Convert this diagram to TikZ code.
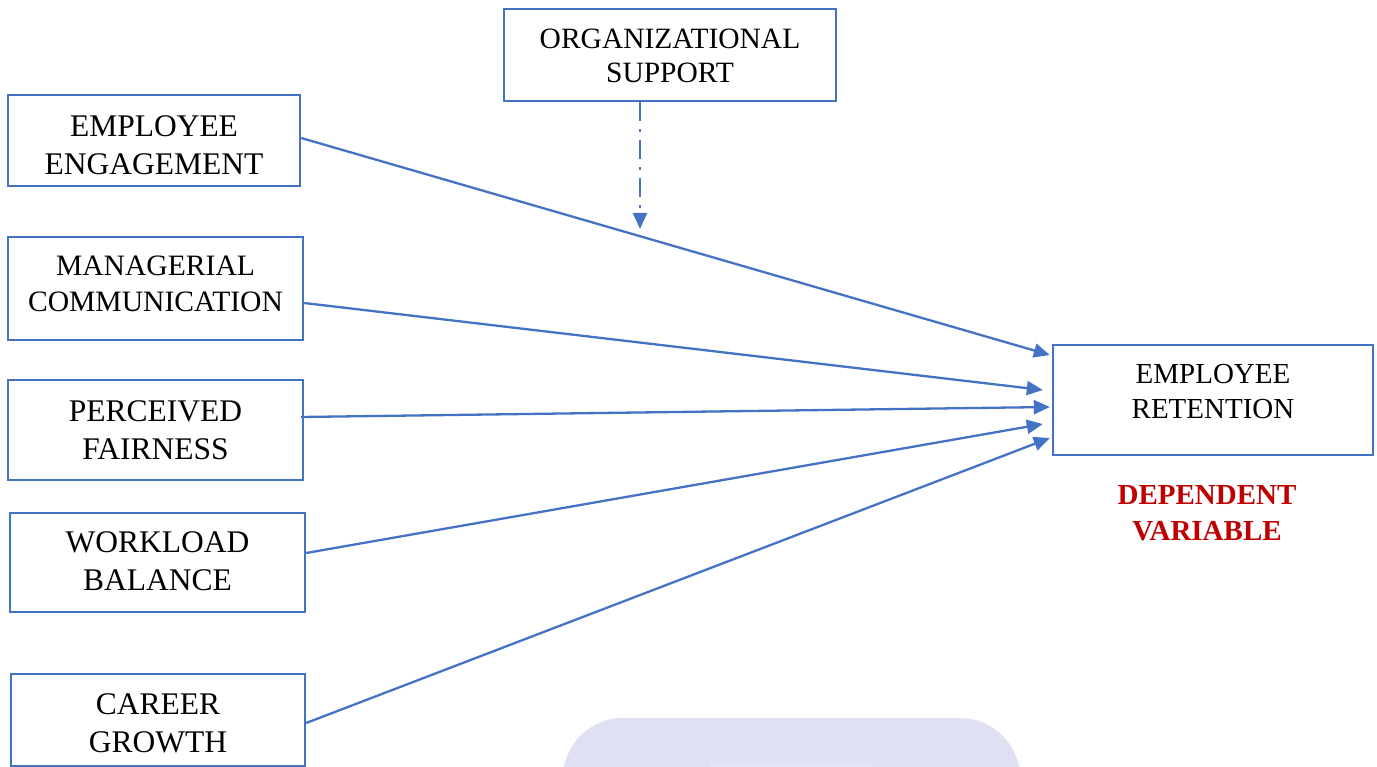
\documentclass[tikz,border=0pt]{standalone}
\usepackage{fontspec}
\setmainfont{Liberation Serif}
\usetikzlibrary{arrows.meta,calc}
\definecolor{boxblue}{HTML}{4472C4}
\definecolor{depred}{HTML}{C00000}
\definecolor{wmark}{HTML}{E0E0F3}
\definecolor{wmarkin}{HTML}{E4E3F8}
\tikzset{
  varbox/.style={draw=boxblue, line width=2.4pt, fill=white, inner sep=0pt},
  boxtext/.style={align=center, inner sep=0pt, font=\fontsize{31.5}{38}\selectfont},
  link/.style={draw=boxblue, line width=2.3pt,
    -{Triangle[length=16pt,width=14pt]}},
  modlink/.style={draw=boxblue, line width=2.3pt,
    dash pattern=on 19pt off 8pt on 3pt off 8pt,
    -{Triangle[length=16pt,width=14pt]}},
}
\begin{document}
\begin{tikzpicture}[x=1pt,y=-1pt]
\useasboundingbox (0,0) rectangle (1377,767);
% faint watermark at the bottom
\begin{scope}
\clip (0,0) rectangle (1377,767);
\fill[wmark, rounded corners=60pt] (563,820) -- (563,718) -- (1020,718) -- (1020,820) -- cycle;
\fill[wmarkin] (710,762) rectangle (873,767);
\end{scope}

\node[varbox, minimum width=332pt, minimum height=92pt] (org) at (670,55) {};
\node[varbox, minimum width=292pt, minimum height=91pt] (eng) at (154,140.5) {};
\node[varbox, minimum width=295pt, minimum height=103pt] (man) at (155.5,288.5) {};
\node[varbox, minimum width=295pt, minimum height=100pt] (fair) at (155.5,430) {};
\node[varbox, minimum width=295pt, minimum height=99pt] (work) at (157.5,562.5) {};
\node[varbox, minimum width=294pt, minimum height=92pt] (car) at (158,720) {};
\node[varbox, minimum width=320pt, minimum height=110pt] (ret) at (1213,400) {};

\node[boxtext, font=\fontsize{29.5}{34}\selectfont] (orgtext) at (670,56) {ORGANIZATIONAL\\SUPPORT};
\node[boxtext] (engtext) at (154,145) {EMPLOYEE\\ENGAGEMENT};
\node[boxtext, font=\fontsize{29.6}{36}\selectfont] (mantext) at (155.5,284) {MANAGERIAL\\COMMUNICATION};
\node[boxtext] (fairtext) at (155.5,430) {PERCEIVED\\FAIRNESS};
\node[boxtext] (worktext) at (157.5,561) {WORKLOAD\\BALANCE};
\node[boxtext] (cartext) at (158,723.5) {CAREER\\GROWTH};
\node[boxtext, font=\fontsize{29}{35}\selectfont] (rettext) at (1213,392) {EMPLOYEE\\RETENTION};
\node[boxtext, text=depred, font=\fontsize{29}{36}\selectfont\bfseries] (dep) at (1207,513) {DEPENDENT\\VARIABLE};

\coordinate (modend) at (640,229);
\draw[modlink] ($(org.south)+(-30,0)$) -- (modend);

\draw[link] ($(eng.east)+(0,-2.5)$) -- ($(ret.west)+(-2,-45)$);
\draw[link] ($(man.east)+(0,14.5)$) -- ($(ret.west)+(-9,-10)$);
\draw[link] ($(fair.east)+(-3,-13)$) -- ($(ret.west)+(-2,7)$);
\draw[link] ($(work.east)+(0,-9.5)$) -- ($(ret.west)+(-9,24)$);
\draw[link] ($(car.east)+(0,3)$) -- ($(ret.west)+(-2,38)$);
\end{tikzpicture}
\end{document}
